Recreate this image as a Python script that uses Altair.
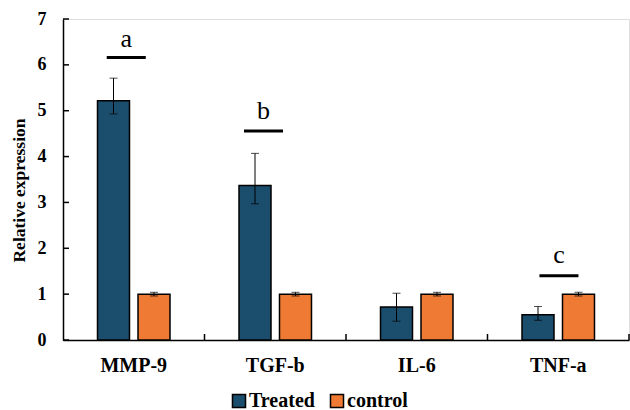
import altair as alt
import pandas as pd

genes = ["MMP-9", "TGF-b", "IL-6", "TNF-a"]
series = ["Treated", "control"]
treated = [5.22, 3.37, 0.72, 0.55]
treated_lo = [4.93, 2.97, 0.41, 0.43]
treated_hi = [5.71, 4.07, 1.02, 0.73]
control = [1.00, 1.00, 1.00, 1.00]
control_lo = [0.96, 0.96, 0.96, 0.96]
control_hi = [1.04, 1.04, 1.04, 1.04]

ann_labels = ["a", "b", "c"]
ann_x = [0.447, 1.417, 3.505]
ann_line_y = [6.16, 4.56, 1.40]
ann_text_y = [6.40, 4.83, 1.68]
ann_half = 0.138

y_ticks = [0, 1, 2, 3, 4, 5, 6, 7]
x_bounds = [1, 2, 3, 4]

colors = ["#1B4D6C", "#EE7A33"]
FONT = "Times New Roman"

rows = []
for i, g in enumerate(genes):
    rows.append({"gene": g, "series": "Treated", "value": treated[i], "lo": treated_lo[i], "hi": treated_hi[i]})
    rows.append({"gene": g, "series": "control", "value": control[i], "lo": control_lo[i], "hi": control_hi[i]})
df = pd.DataFrame(rows)

ann = pd.DataFrame({"label": ann_labels, "x": ann_x,
                    "x1": [v - ann_half for v in ann_x], "x2": [v + ann_half for v in ann_x],
                    "ly": ann_line_y, "ty": ann_text_y})
yt = pd.DataFrame({"v": y_ticks})
xb = pd.DataFrame({"b": x_bounds})

W, H = 566, 321
yscale = alt.Scale(domain=[0, 7], nice=False)
xband = alt.Scale(paddingInner=0, paddingOuter=0)
xoff = alt.Scale(paddingInner=0.21, paddingOuter=0.852)

x_axis = alt.Axis(labelAngle=0, labelFont=FONT, labelFontWeight="bold", labelFontSize=20,
                  labelColor="black", ticks=False, labelPadding=15, domainColor="black",
                  domainWidth=1.5)
y_axis = alt.Axis(values=y_ticks, labelFont=FONT, labelFontWeight="bold", labelFontSize=18,
                  labelColor="black", ticks=False, labelPadding=17, grid=False,
                  domainColor="black", domainWidth=1.5,
                  titleFont=FONT, titleFontWeight="bold", titleFontSize=17.5, titleColor="black",
                  titleAngle=270, titleX=-44, titleY=171, titleAlign="center",
                  titleBaseline="middle")
YT = "Relative expression"

base = alt.Chart(df)
x_enc = alt.X("gene:N", sort=genes, scale=xband, title=None, axis=x_axis)
off_enc = alt.XOffset("series:N", sort=series, scale=xoff)
bars = base.mark_bar(stroke="black", strokeWidth=1.5).encode(
    x=x_enc,
    xOffset=off_enc,
    y=alt.Y("value:Q", scale=yscale, title=YT, axis=y_axis),
    color=alt.Color("series:N", sort=series, scale=alt.Scale(domain=series, range=colors),
                    legend=alt.Legend(title=None, orient="none", legendX=166, legendY=372,
                                      direction="horizontal", symbolType="square", symbolSize=170,
                                      symbolStrokeColor="black", symbolStrokeWidth=1.5,
                                      labelFont=FONT, labelFontWeight="bold", labelFontSize=20,
                                      labelColor="black", labelOffset=0, columnPadding=12)),
)
err = base.mark_rule(color="black", strokeWidth=1).encode(
    x=x_enc, xOffset=off_enc, y=alt.Y("lo:Q", scale=yscale, title=YT, axis=y_axis), y2="hi:Q")
cap_hi = base.mark_tick(color="black", size=8, thickness=1).encode(
    x=x_enc, xOffset=off_enc, y=alt.Y("hi:Q", scale=yscale, title=YT, axis=y_axis))
cap_lo = base.mark_tick(color="black", size=8, thickness=1).encode(
    x=x_enc, xOffset=off_enc, y=alt.Y("lo:Q", scale=yscale, title=YT, axis=y_axis))
yticks = alt.Chart(yt).mark_rule(color="black", strokeWidth=1.5).encode(
    y=alt.Y("v:Q", scale=yscale, title=YT, axis=y_axis), x=alt.value(0), x2=alt.value(6))

bar_layer = alt.layer(bars, err, cap_hi, cap_lo, yticks)

qx = alt.Scale(domain=[0, 4], nice=False, zero=False)
lines = alt.Chart(ann).mark_rule(color="black", strokeWidth=3).encode(
    x=alt.X("x1:Q", scale=qx, axis=None), x2="x2:Q",
    y=alt.Y("ly:Q", scale=yscale, title=YT, axis=y_axis))
texts = alt.Chart(ann).mark_text(font=FONT, fontSize=26, color="black", baseline="alphabetic").encode(
    x=alt.X("x:Q", scale=qx, axis=None),
    y=alt.Y("ty:Q", scale=yscale, title=YT, axis=y_axis), text="label:N")
xticks = alt.Chart(xb).mark_rule(color="black", strokeWidth=1.5).encode(
    x=alt.X("b:Q", scale=qx, axis=None), y=alt.value(H), y2=alt.value(H - 6))
q_layer = alt.layer(lines, texts, xticks)

chart = alt.layer(bar_layer, q_layer).resolve_scale(x="independent").properties(
    width=W, height=H, autosize="none",
    padding={"left": 63, "top": 19, "right": 1, "bottom": 70},
).configure_view(stroke=None).configure(
    background="white", font=FONT
).configure_axis(
    labelFont=FONT, titleFont=FONT, labelFontWeight="bold", titleFontWeight="bold"
).configure_legend(
    labelFont=FONT, labelFontWeight="bold"
)

chart.save("out.html", embed_options={"renderer": "svg", "actions": False})
